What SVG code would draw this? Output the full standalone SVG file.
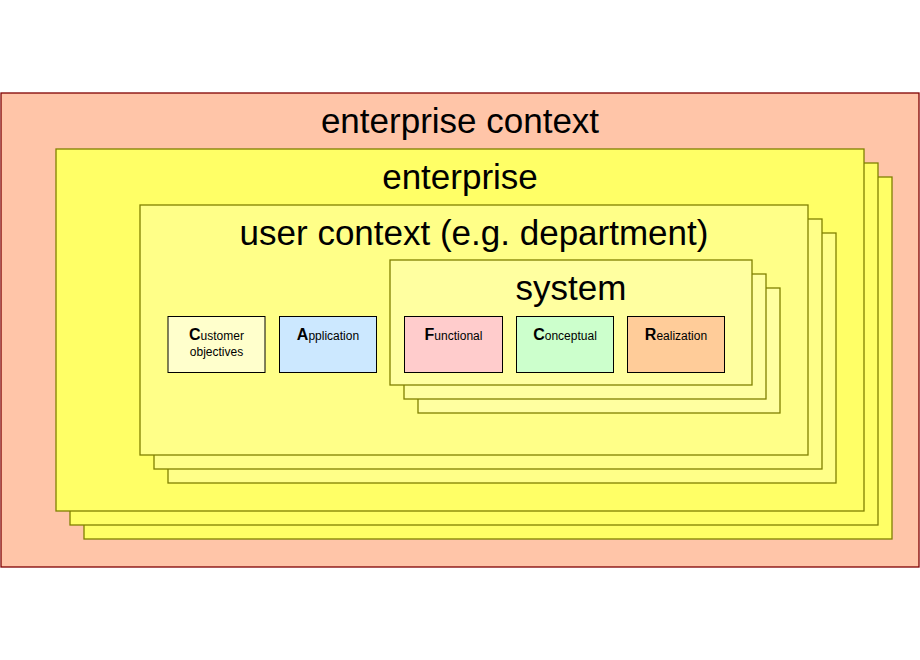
<svg xmlns="http://www.w3.org/2000/svg" width="920" height="660" viewBox="0 0 920 660">
<style>
.ent{fill:#FFFF66;stroke:#808000;stroke-width:1.3}
.usr{fill:#FFFF88;stroke:#808000;stroke-width:1.3}
.sys{fill:#FFFFA0;stroke:#808000;stroke-width:1.3}
.box{stroke:#000;stroke-width:1}
.big{font-family:"Liberation Sans",Arial,sans-serif;font-size:35px;fill:#000;text-anchor:middle}
.lbl{font-family:"Liberation Sans",Arial,sans-serif;font-size:12px;fill:#000;text-anchor:middle}
.ini{font-weight:bold;font-size:16px}
</style>
<rect width="920" height="660" fill="#fff"/>
<g id="enterprise-context">
<rect x="1" y="93" width="918" height="474" fill="#FFC5A8" stroke="#800000" stroke-width="1.3"/>
<text class="big" x="460" y="133">enterprise context</text>
</g>
<g id="enterprise">
<rect class="ent" x="84" y="177" width="808" height="362"/>
<rect class="ent" x="70" y="163" width="808" height="362"/>
<rect class="ent" x="56" y="149" width="808" height="362"/>
<text class="big" x="460" y="189">enterprise</text>
</g>
<g id="user-context">
<rect class="usr" x="168" y="233" width="668" height="250"/>
<rect class="usr" x="154" y="219" width="668" height="250"/>
<rect class="usr" x="140" y="205" width="668" height="250"/>
<text class="big" x="474" y="245">user context (e.g. department)</text>
</g>
<g id="system">
<rect class="sys" x="418" y="288" width="362" height="125"/>
<rect class="sys" x="404" y="274" width="362" height="125"/>
<rect class="sys" x="390" y="260" width="362" height="125"/>
<text class="big" x="571" y="300">system</text>
</g>
<g id="customer-objectives">
<rect class="box" x="168" y="316.5" width="97" height="56" fill="#FFFFCC"/>
<text class="lbl" x="216.5" y="340"><tspan class="ini">C</tspan>ustomer</text>
<text class="lbl" x="216.5" y="356">objectives</text>
</g>
<g id="application">
<rect class="box" x="279.5" y="316.5" width="97" height="56" fill="#CCE8FF"/>
<text class="lbl" x="328" y="340"><tspan class="ini">A</tspan>pplication</text>
</g>
<g id="functional">
<rect class="box" x="404.5" y="316.5" width="98" height="56" fill="#FFCCCC"/>
<text class="lbl" x="453.5" y="340"><tspan class="ini">F</tspan>unctional</text>
</g>
<g id="conceptual">
<rect class="box" x="516.5" y="316.5" width="97" height="56" fill="#CCFFCC"/>
<text class="lbl" x="565" y="340"><tspan class="ini">C</tspan>onceptual</text>
</g>
<g id="realization">
<rect class="box" x="627.5" y="316.5" width="97" height="56" fill="#FFCC99"/>
<text class="lbl" x="676" y="340"><tspan class="ini">R</tspan>ealization</text>
</g>
<g id="connectors"></g>
</svg>
